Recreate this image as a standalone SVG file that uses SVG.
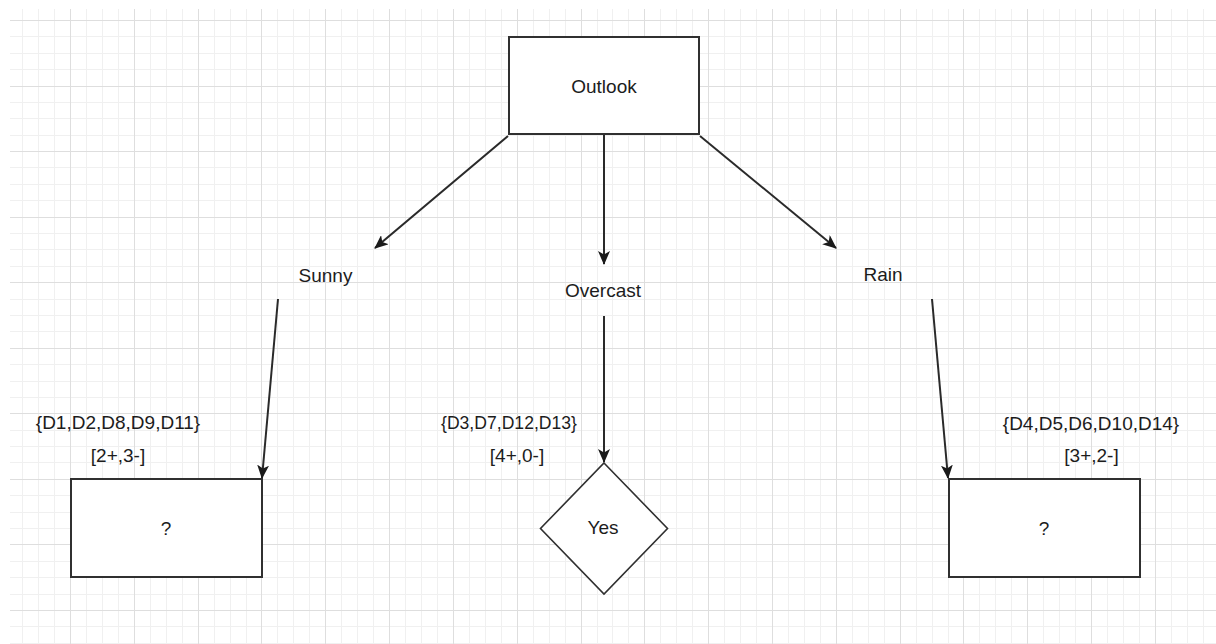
<svg xmlns="http://www.w3.org/2000/svg" width="1216" height="644" viewBox="0 0 1216 644">
  <defs>
    <style>
      .grid-minor { stroke: #f0f0f0; stroke-width: 1; fill: none; }
      .grid-major { stroke: #dedede; stroke-width: 1; fill: none; }
      .shape { fill: #ffffff; stroke: #303030; stroke-width: 2; }
      .edge { fill: none; stroke: #2a2a2a; stroke-width: 2; marker-end: url(#arrow); }
      text { font-family: "Liberation Sans", Arial, sans-serif; font-size: 19px; fill: #1c1c1c; text-anchor: middle; }
    </style>
    <marker id="arrow" viewBox="0 0 14 12" refX="13" refY="6" markerWidth="14" markerHeight="12" markerUnits="userSpaceOnUse" orient="auto">
      <path d="M0,0 L14,6 L0,12 L3.5,6 Z" fill="#1a1a1a"/>
    </marker>
  </defs>

  <rect x="0" y="0" width="1216" height="644" fill="#ffffff"/>

  <!-- background grid -->
  <g id="grid">
    <path class="grid-minor" d="M22.5 9V644M38.5 9V644M54.5 9V644M86.5 9V644M102.5 9V644M118.5 9V644M150.5 9V644M166.5 9V644M182.5 9V644M214.5 9V644M230.5 9V644M246.5 9V644M277.5 9V644M293.5 9V644M309.5 9V644M341.5 9V644M357.5 9V644M373.5 9V644M405.5 9V644M421.5 9V644M437.5 9V644M469.5 9V644M485.5 9V644M501.5 9V644M533.5 9V644M549.5 9V644M565.5 9V644M597.5 9V644M612.5 9V644M628.5 9V644M660.5 9V644M676.5 9V644M692.5 9V644M724.5 9V644M740.5 9V644M756.5 9V644M788.5 9V644M804.5 9V644M820.5 9V644M852.5 9V644M868.5 9V644M884.5 9V644M916.5 9V644M932.5 9V644M948.5 9V644M979.5 9V644M995.5 9V644M1011.5 9V644M1043.5 9V644M1059.5 9V644M1075.5 9V644M1107.5 9V644M1123.5 9V644M1139.5 9V644M1171.5 9V644M1187.5 9V644M1203.5 9V644
      M10 36.5H1216M10 53.5H1216M10 69.5H1216M10 102.5H1216M10 118.5H1216M10 135.5H1216M10 167.5H1216M10 184.5H1216M10 200.5H1216M10 233.5H1216M10 249.5H1216M10 266.5H1216M10 299.5H1216M10 315.5H1216M10 331.5H1216M10 364.5H1216M10 381.5H1216M10 397.5H1216M10 430.5H1216M10 446.5H1216M10 462.5H1216M10 495.5H1216M10 512.5H1216M10 528.5H1216M10 561.5H1216M10 577.5H1216M10 594.5H1216M10 626.5H1216M10 643.5H1216"/>
    <path class="grid-major" d="M70.5 9V644M134.5 9V644M198.5 9V644M261.5 9V644M325.5 9V644M389.5 9V644M453.5 9V644M517.5 9V644M581.5 9V644M644.5 9V644M708.5 9V644M772.5 9V644M836.5 9V644M900.5 9V644M963.5 9V644M1027.5 9V644M1091.5 9V644M1155.5 9V644
      M10 20.5H1216M10 86.5H1216M10 151.5H1216M10 217.5H1216M10 282.5H1216M10 348.5H1216M10 413.5H1216M10 479.5H1216M10 544.5H1216M10 610.5H1216"/>
  </g>

  <!-- connectors -->
  <g id="connectors">
    <path class="edge" d="M508,136 L375,248"/>
    <path class="edge" d="M604,135 L604,264"/>
    <path class="edge" d="M700,136 L836,248"/>
    <path class="edge" d="M278,299 L262,478"/>
    <path class="edge" d="M604,316 L604,462"/>
    <path class="edge" d="M932,299 L948,478"/>
  </g>

  <g id="node-outlook">
    <rect class="shape" x="509" y="37" width="190" height="97"/>
    <text x="604" y="93">Outlook</text>
  </g>

  <g id="label-sunny">
    <text x="325.5" y="282">Sunny</text>
  </g>
  <g id="label-overcast">
    <text x="603" y="297">Overcast</text>
  </g>
  <g id="label-rain">
    <text x="883" y="281">Rain</text>
  </g>

  <g id="node-sunny-leaf">
    <text x="118" y="429">{D1,D2,D8,D9,D11}</text>
    <text x="118" y="462">[2+,3-]</text>
    <rect class="shape" x="71" y="479" width="191" height="98"/>
    <text x="166" y="535">?</text>
  </g>

  <g id="node-overcast-leaf">
    <text x="509" y="429" textLength="136" lengthAdjust="spacingAndGlyphs">{D3,D7,D12,D13}</text>
    <text x="517" y="462">[4+,0-]</text>
    <path class="shape" style="stroke-width:1.6" d="M604,463 L667.5,528.5 L604,594 L540.5,528.5 Z"/>
    <text x="603" y="534">Yes</text>
  </g>

  <g id="node-rain-leaf">
    <text x="1091" y="430">{D4,D5,D6,D10,D14}</text>
    <text x="1091.5" y="462">[3+,2-]</text>
    <rect class="shape" x="949" y="479" width="191" height="98"/>
    <text x="1044" y="535">?</text>
  </g>
</svg>
